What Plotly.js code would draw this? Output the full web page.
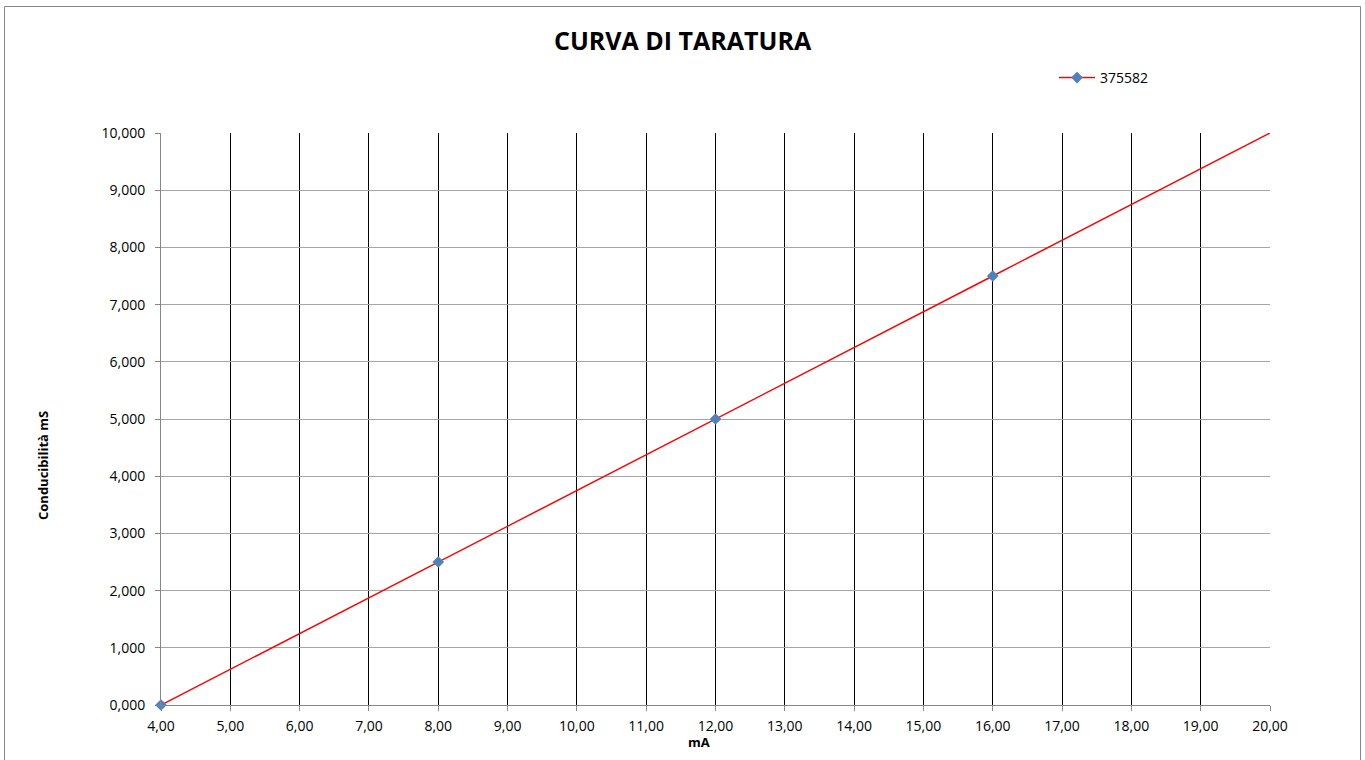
<!DOCTYPE html>
<html>
<head>
<meta charset="utf-8">
<script src="https://cdn.plot.ly/plotly-3.0.1.min.js"></script>
<style>
html,body{margin:0;padding:0;background:#fff;}
#chart{width:1365px;height:760px;}
</style>
</head>
<body>
<div id="chart"></div>
<script>
// Data
const seriesName = "375582";
const currentMA = [4, 8, 12, 16, 20];
const conductivity = [0, 2.5, 5, 7.5, 10];
const markedCount = 4; // the last point (20 mA) has no marker in the reference
const titleText = "CURVA DI TARATURA";
const xTitle = "mA";
const yTitle = "Conducibilità mS";

const W = 1365, H = 760;
const L = 161, R = 1270, T = 133, B = 705;
const px = x => (x - L) / (R - L);
const py = y => (B - y) / (B - T);

const font = "Open Sans, sans-serif";
const red = "#ff0000";
const blue = "#4f81bd";

// unmarked tail segment of the series (last marked point to the end)
const tailTrace = {
  x: currentMA.slice(markedCount - 1),
  y: conductivity.slice(markedCount - 1),
  type: "scatter",
  mode: "lines",
  line: {color: red, width: 1.5},
  showlegend: false,
  cliponaxis: false,
  hoverinfo: "skip"
};
const markTrace = {
  x: currentMA.slice(0, markedCount),
  y: conductivity.slice(0, markedCount),
  name: seriesName,
  type: "scatter",
  mode: "lines+markers",
  line: {color: red, width: 1.5},
  marker: {symbol: "diamond", color: blue, size: 9, line: {width: 0}},
  showlegend: true,
  cliponaxis: false
};

const layout = {
  width: W, height: H,
  margin: {l: L, r: W - R, t: T, b: H - B, pad: 0},
  paper_bgcolor: "#fff",
  plot_bgcolor: "#fff",
  separators: ",.",
  font: {family: font, size: 14, color: "#000"},
  showlegend: true,
  legend: {
    x: px(1054), y: py(78), xanchor: "left", yanchor: "middle",
    font: {family: font, size: 14, color: "#000"},
    bgcolor: "rgba(0,0,0,0)", borderwidth: 0, itemwidth: 36
  },
  xaxis: {
    range: [4, 20], dtick: 1, tick0: 4, tickformat: ".2f",
    showgrid: true, gridcolor: "#000", gridwidth: 1,
    showline: true, linecolor: "#868686", linewidth: 1,
    ticks: "outside", ticklen: 5, tickcolor: "#868686",
    ticklabelstandoff: 3,
    zeroline: false, fixedrange: true,
    tickfont: {family: font, size: 14, color: "#000"}
  },
  yaxis: {
    range: [0, 10], dtick: 1, tick0: 0, tickformat: ".3f",
    showgrid: true, gridcolor: "#a6a6a6", gridwidth: 1,
    showline: true, linecolor: "#868686", linewidth: 1,
    ticks: "outside", ticklen: 5, tickcolor: "#868686",
    ticklabelstandoff: 7,
    zeroline: false, fixedrange: true,
    tickfont: {family: font, size: 14, color: "#000"}
  },
  annotations: [
    {text: "<b>" + titleText + "</b>", xref: "paper", yref: "paper", x: px(683), y: py(40),
     xanchor: "center", yanchor: "middle", showarrow: false,
     font: {family: font, size: 25, color: "#000"}},
    {text: "<b>" + xTitle + "</b>", xref: "paper", yref: "paper", x: px(699), y: py(742),
     xanchor: "center", yanchor: "middle", showarrow: false,
     font: {family: font, size: 13, color: "#000"}},
    {text: "<b>" + yTitle + "</b>", xref: "paper", yref: "paper", x: px(43), y: py(466),
     xanchor: "center", yanchor: "middle", showarrow: false, textangle: -90,
     font: {family: font, size: 13, color: "#000"}}
  ],
  shapes: [
    {type: "rect", xref: "paper", yref: "paper", x0: px(4.5), x1: px(1360.5), y0: py(770), y1: py(6.5),
     line: {color: "#868686", width: 1}, fillcolor: "rgba(0,0,0,0)", layer: "below"}
  ]
};

Plotly.newPlot("chart", [tailTrace, markTrace], layout, {displayModeBar: false, staticPlot: true});
</script>
</body>
</html>
